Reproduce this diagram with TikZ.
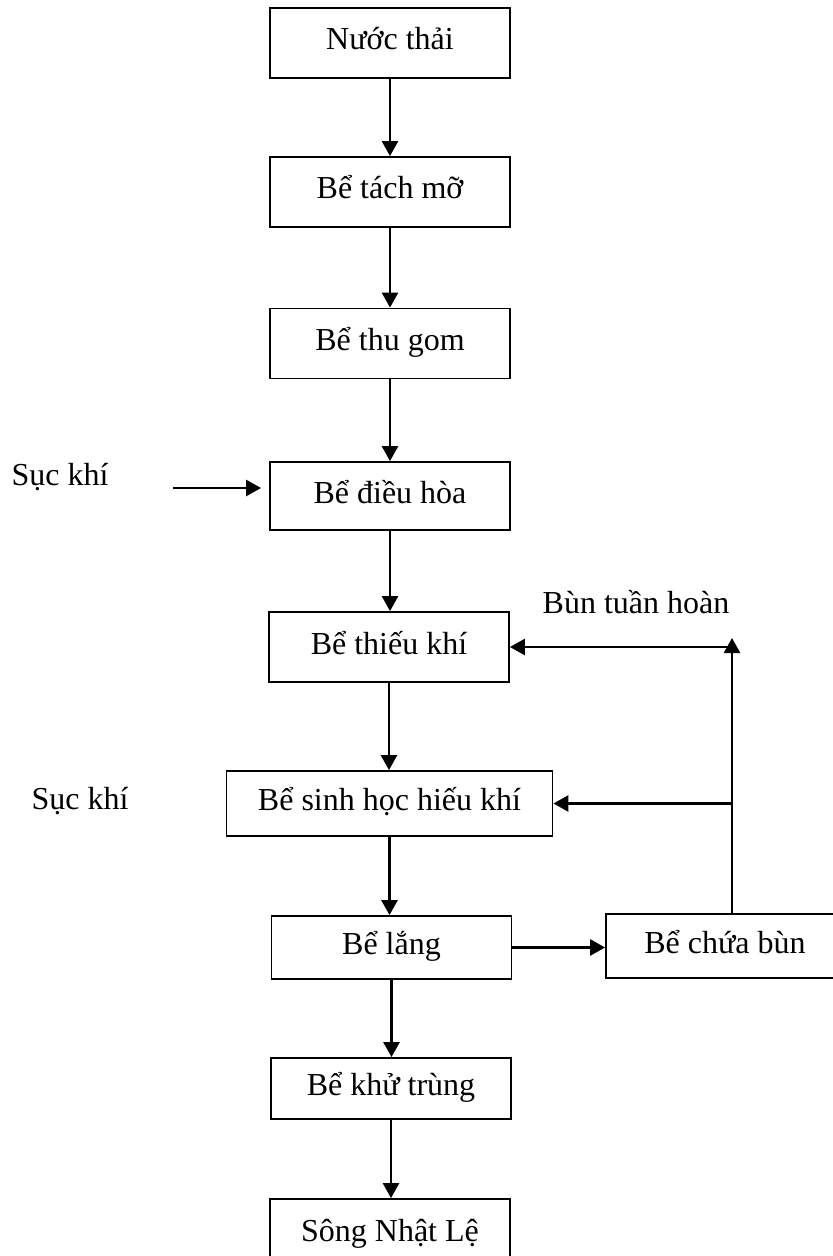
\documentclass[tikz,border=0pt]{standalone}
\usepackage{fontspec}
\setmainfont{Liberation Serif}
\usetikzlibrary{positioning}
\usetikzlibrary{arrows.meta,calc}
\tikzset{
    %Define standard arrow tip
    >={Triangle[length=7.5pt,width=8pt]},
    % Define arrow style
    pil/.style={
           ->,
           line width=1.3pt,},
    % Define tank style
    bx/.style={
           draw,
           line width=0.9pt,
           minimum width=120pt,
           minimum height=35pt,
           inner sep=0pt,
           text height=10.5pt,
           text depth=3.5pt,
           font=\fontsize{16}{19}\selectfont,},
    % Define free text style
    lbl/.style={
           inner sep=0pt,
           text height=10.5pt,
           text depth=3.5pt,
           font=\fontsize{16}{19}\selectfont,}
}

\begin{document}
\begin{tikzpicture}[x=0.5pt, y=-0.5pt]

\useasboundingbox (0,0) rectangle (833,1256);

% main line of tanks
\node [bx] (nuocthai) at (390,  43) {Nước thải};
\node [bx] (tachmo)   at (390, 192) {Bể tách mỡ};
\node [bx] (thugom)   at (390, 343.5) {Bể thu gom};
\node [bx, minimum height=34pt] (dieuhoa) at (390, 496) {Bể điều hòa};
\node [bx] (thieukhi) at (389, 647) {Bể thiếu khí};
\node [bx, minimum width=163pt, minimum height=32.5pt] (sinhhoc) at (389.5, 803.5) {Bể sinh học hiếu khí};
\node [bx, minimum height=31.5pt] (lang)     at (391.5, 947.5) {Bể lắng};
\node [bx, minimum height=30.5pt] (khutrung) at (391, 1088.5) {Bể khử trùng};
\node [bx] (song)     at (390, 1234) {Sông Nhật Lệ};

% sludge tank
\node [bx, minimum width=119pt, minimum height=32pt] (chuabun) at (725, 946) {Bể chứa bùn};

% free labels
\node [lbl] (suckhi)      at ( 60, 478) {Sục khí};
\node [lbl] (suckhib)     at ( 80, 802) {Sục khí};
\node [lbl] (buntuanhoan) at (636, 606) {Bùn tuần hoàn};

% flow down the line
\draw [pil] (nuocthai.south) -- (nuocthai.south |- tachmo.north);
\draw [pil] (tachmo.south)   -- (tachmo.south |- thugom.north);
\draw [pil] (thugom.south)   -- (thugom.south |- dieuhoa.north);
\draw [pil] (dieuhoa.south)  -- (dieuhoa.south |- thieukhi.north);
\draw [pil] (thieukhi.south) -- (thieukhi.south |- sinhhoc.north);
\draw [pil] (sinhhoc.south)  -- (sinhhoc.south |- lang.north);
\draw [pil] (lang.south)     -- (lang.south |- khutrung.north);
\draw [pil] (khutrung.south) -- (khutrung.south |- song.north);

% air supply
\coordinate (air) at (173, 488);
\draw [pil, shorten >=4pt] (air) -- (air -| dieuhoa.west);

% sludge line and recycle
\draw [pil] (lang.east) -- (lang.east -| chuabun.west);
\coordinate (riser) at (732, 638);
\draw [pil] (riser |- chuabun.north) -- (riser);
\draw [pil] (riser |- thieukhi.east) -- (thieukhi.east);
\draw [pil] (riser |- sinhhoc.east) -- (sinhhoc.east);

\end{tikzpicture}
\end{document}
